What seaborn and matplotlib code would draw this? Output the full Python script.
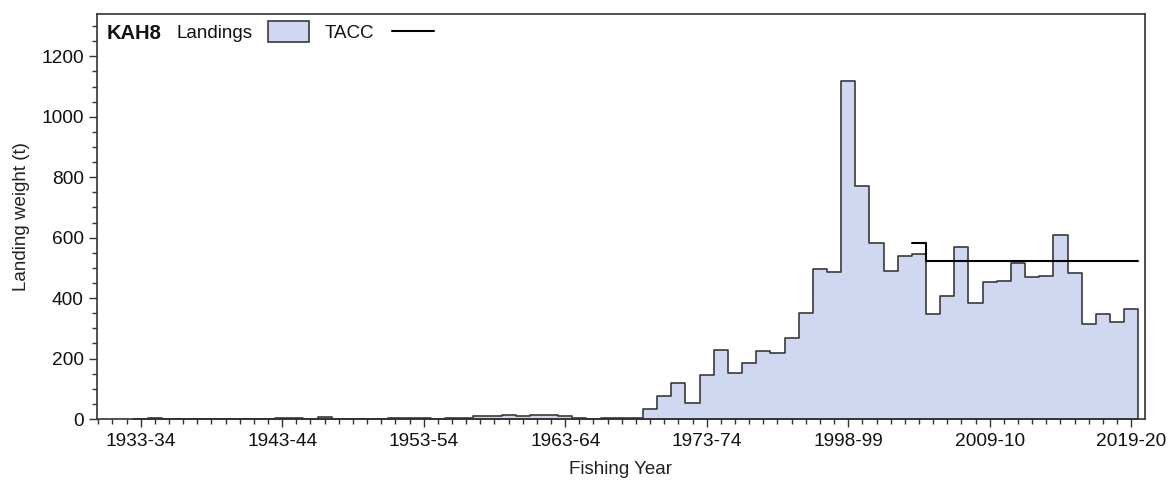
import numpy as np
import pandas as pd
import matplotlib
matplotlib.use("Agg")
import matplotlib.pyplot as plt
from matplotlib.patches import Rectangle
from matplotlib.lines import Line2D
from matplotlib.ticker import MultipleLocator
import seaborn as sns

# ---- data ----
landings = [0, 3, 0, 0, 0, 0, 0, 0, 0, 0,
            2, 5, 1, 8, 0, 0, 0, 0, 2, 2,
            2, 1, 4, 4, 11, 11, 15, 9, 12, 15,
            11, 4, 1, 4, 4, 5, 33, 76, 119, 54,
            147, 228, 153, 186, 225, 219, 268, 352, 497, 487,
            1119, 771, 582, 489, 541, 547, 347, 408, 568, 384,
            453, 457, 516, 470, 473, 608, 484, 314, 346, 321,
            363]
tacc = [None] * 55 + [584] + [523] * 15
tick_labels = ["1933-34", "1943-44", "1953-54", "1963-64",
               "1973-74", "1998-99", "2009-10", "2019-20"]
tick_step = 10

fill_col = "#D0D8F1"
edge_col = "#3a3a3a"

sns.set_style("ticks")
plt.rcParams["font.family"] = ["Liberation Sans", "DejaVu Sans"]
plt.rcParams["font.size"] = 13.5

df = pd.DataFrame({"idx": np.arange(len(landings)), "landings": landings})

fig = plt.figure(figsize=(11.68, 4.8), dpi=100)
ax = fig.add_axes([0.0830, 0.127, 0.8969, 0.8438])

sns.histplot(data=df, x="idx", weights="landings", discrete=True,
             element="step", fill=True, color=fill_col, alpha=1,
             edgecolor=edge_col, linewidth=1.2, ax=ax)

# TACC as step line
t_idx = [i for i, v in enumerate(tacc) if v is not None]
t_x = [i - 0.5 for i in t_idx] + [t_idx[-1] + 0.5]
t_y = [tacc[i] for i in t_idx] + [tacc[t_idx[-1]]]
tdf = pd.DataFrame({"x": t_x, "y": t_y})
sns.lineplot(data=tdf, x="x", y="y", drawstyle="steps-post", color="black",
             linewidth=1.5, estimator=None, sort=False, ax=ax)

ax.set_xlim(-3.09, 70.94)
ax.set_ylim(0, 1340)

ax.set_xticks([i * tick_step for i in range(len(tick_labels))])
ax.set_xticklabels(tick_labels)
ax.xaxis.set_minor_locator(MultipleLocator(1))
ax.yaxis.set_major_locator(MultipleLocator(200))
ax.yaxis.set_minor_locator(MultipleLocator(50))
ax.tick_params(axis="both", which="major", length=6, width=1, color="#333333",
               labelsize=13.8, labelcolor="#111111", direction="out")
ax.tick_params(axis="both", which="minor", length=3.5, width=1, color="#333333",
               direction="out")
ax.tick_params(axis="x", which="major", pad=4)

for sp in ax.spines.values():
    sp.set_visible(True)
    sp.set_color("#333333")
    sp.set_linewidth(1.2)

ax.set_xlabel("Fishing Year", fontsize=13.5, color="#222222", labelpad=8)
ax.set_ylabel("Landing weight (t)", fontsize=13.5, color="#222222", labelpad=8)

# legend-like header
tr = ax.transAxes
ax.text(0.0095, 0.953, "KAH8", transform=tr, fontsize=14.5, fontweight="bold",
        va="center", ha="left", color="#111111")
ax.text(0.0764, 0.953, "Landings", transform=tr, fontsize=13.5,
        va="center", ha="left", color="#111111")
ax.add_patch(Rectangle((0.1632, 0.9309), 0.0392, 0.0518, transform=tr,
                       facecolor=fill_col, edgecolor=edge_col, linewidth=1.2,
                       clip_on=False))
ax.text(0.2177, 0.953, "TACC", transform=tr, fontsize=13.5,
        va="center", ha="left", color="#111111")
ax.add_line(Line2D([0.2816, 0.3217], [0.958, 0.958], transform=tr,
                   color="black", linewidth=1.5))

fig.savefig("out.png", dpi=100, facecolor="white")
